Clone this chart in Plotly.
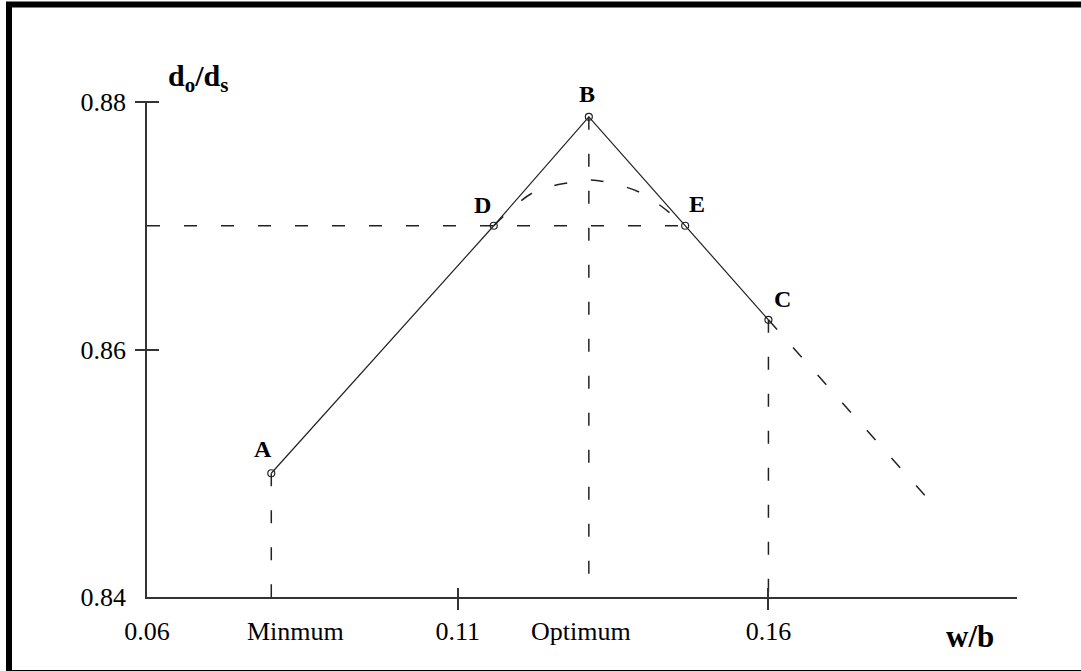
import plotly.graph_objects as go

# ---------------- data ----------------
point_names = ["A", "D", "B", "E", "C"]
point_x = [0.08, 0.1158, 0.1311, 0.1466, 0.16]
point_y = [0.850, 0.870, 0.8788, 0.870, 0.8624]

# dashed continuation of B-C beyond C
ext_x = [0.16, 0.1866]
ext_y = [0.8624, 0.8474]

# dashed rounded peak between D and E
arc_x = [0.1158, 0.1222, 0.1281, 0.1311, 0.1341, 0.1397, 0.1466]
arc_y = [0.870, 0.8727, 0.8735, 0.8737, 0.8735, 0.8726, 0.870]

# horizontal dashed level through D and E
level_x = [0.06, 0.1466]
level_y = [0.870, 0.870]

# vertical dashed drops (A, B, C)
drop_x = [0.08, 0.1311, 0.16]
drop_top = [0.850, 0.8788, 0.8624]
axis_floor = 0.84

x_range = [0.06, 0.20]
y_range = [0.84, 0.88]
x_tick_vals = [0.06, 0.11, 0.16]
x_tick_text = ["0.06", "0.11", "0.16"]
x_mark_vals = [0.11, 0.16]
y_tick_vals = [0.84, 0.86, 0.88]
y_tick_text = ["0.84", "0.86", "0.88"]
y_mark_vals = [0.86, 0.88]
named_x = [0.08, 0.1311]
named_text = ["Minmum", "Optimum"]

# ---------------- styling ----------------
INK = "#222222"
SERIF = "Liberation Serif, Times New Roman, serif"
DASH = "13px,24px"
label_shift = {"A": (-8, 24), "D": (-11, 21), "B": (-2, 23), "E": (12, 22), "C": (14, 21)}
named_shift = [24, -8]

W, H = 1081, 671
L, R, T, B = 147, 64, 102, 74
pw, ph = W - L - R, H - T - B

fig = go.Figure()

# vertical dashed drops
for xv, yt in zip(drop_x, drop_top):
    fig.add_trace(go.Scatter(x=[xv, xv], y=[yt, axis_floor], mode="lines",
                             line=dict(color=INK, width=1.5, dash=DASH),
                             hoverinfo="skip", showlegend=False))
# horizontal dashed level
fig.add_trace(go.Scatter(x=level_x, y=level_y, mode="lines",
                         line=dict(color=INK, width=1.5, dash=DASH),
                         hoverinfo="skip", showlegend=False))
# dashed arc
fig.add_trace(go.Scatter(x=arc_x, y=arc_y, mode="lines",
                         line=dict(color=INK, width=1.5, dash=DASH, shape="spline"),
                         hoverinfo="skip", showlegend=False))
# dashed extension
fig.add_trace(go.Scatter(x=ext_x, y=ext_y, mode="lines",
                         line=dict(color=INK, width=1.5, dash=DASH),
                         hoverinfo="skip", showlegend=False))
# main solid polyline with open circle markers
fig.add_trace(go.Scatter(x=point_x, y=point_y, mode="lines+markers",
                         line=dict(color=INK, width=1.2),
                         marker=dict(symbol="circle-open", size=7, color=INK,
                                     line=dict(width=1.2, color=INK)),
                         showlegend=False))
# invisible trace to hold the tick-mark axes
fig.add_trace(go.Scatter(x=[x_range[0]], y=[y_range[0]], xaxis="x2", yaxis="y2",
                         mode="markers", marker=dict(opacity=0), hoverinfo="skip",
                         showlegend=False))

# point labels
for name, xv, yv in zip(point_names, point_x, point_y):
    dx, dy = label_shift[name]
    fig.add_annotation(x=xv, y=yv, text=f"<b>{name}</b>", showarrow=False,
                       xshift=dx, yshift=dy,
                       font=dict(family=SERIF, size=24, color="black"))

# named x positions
for xv, txt, dx in zip(named_x, named_text, named_shift):
    fig.add_annotation(x=xv, y=-34 / ph, yref="paper", text=txt, showarrow=False,
                       xshift=dx, yanchor="middle",
                       font=dict(family=SERIF, size=26, color="black"))

# axis titles
fig.add_annotation(x=(166 - L) / pw, y=(T + ph - 78) / ph, xref="paper", yref="paper",
                   text="<b>d<sub>o</sub>/d<sub>s</sub></b>", showarrow=False,
                   xanchor="left", yanchor="middle",
                   font=dict(family=SERIF, size=30, color="black"))
fig.add_annotation(x=(970 - L) / pw, y=-(636 - (T + ph)) / ph, xref="paper", yref="paper",
                   text="<b>w/b</b>", showarrow=False, xanchor="center", yanchor="middle",
                   font=dict(family=SERIF, size=31, color="black"))

# outer black frame (cropped on the right)
fig.add_shape(type="rect", xref="paper", yref="paper",
              x0=(9 - L) / pw, x1=(1095 - L) / pw,
              y0=-(673 - (T + ph)) / ph, y1=(T + ph - 4.5) / ph,
              line=dict(color="black", width=6), fillcolor="rgba(0,0,0,0)", layer="above")

axis_common = dict(showgrid=False, zeroline=False)
fig.update_layout(
    width=W, height=H,
    margin=dict(l=L, r=R, t=T, b=B),
    paper_bgcolor="white", plot_bgcolor="white",
    font=dict(family=SERIF, color="black"),
    xaxis=dict(range=x_range, tickvals=x_tick_vals, ticktext=x_tick_text, ticks="",
               showline=True, linecolor="#333333", linewidth=1.5,
               tickfont=dict(family=SERIF, size=26, color="black"),
               ticklabelstandoff=10, **axis_common),
    yaxis=dict(range=y_range, tickvals=y_tick_vals, ticktext=y_tick_text, ticks="",
               showline=True, linecolor="#333333", linewidth=1.5,
               tickfont=dict(family=SERIF, size=26, color="black"),
               ticklabelstandoff=14, **axis_common),
    xaxis2=dict(range=x_range, overlaying="x", anchor="free", position=10 / ph,
                tickvals=x_mark_vals, ticks="outside", ticklen=22, tickwidth=1.5,
                tickcolor="#333333", showticklabels=False, showline=False, **axis_common),
    yaxis2=dict(range=y_range, overlaying="y", anchor="free", position=12 / pw,
                tickvals=y_mark_vals, ticks="outside", ticklen=24, tickwidth=1.5,
                tickcolor="#333333", showticklabels=False, showline=False, **axis_common),
)

fig.write_html("out.html", config={"displayModeBar": False},
               post_script="document.body.style.margin='0';document.body.style.overflow='hidden';")
